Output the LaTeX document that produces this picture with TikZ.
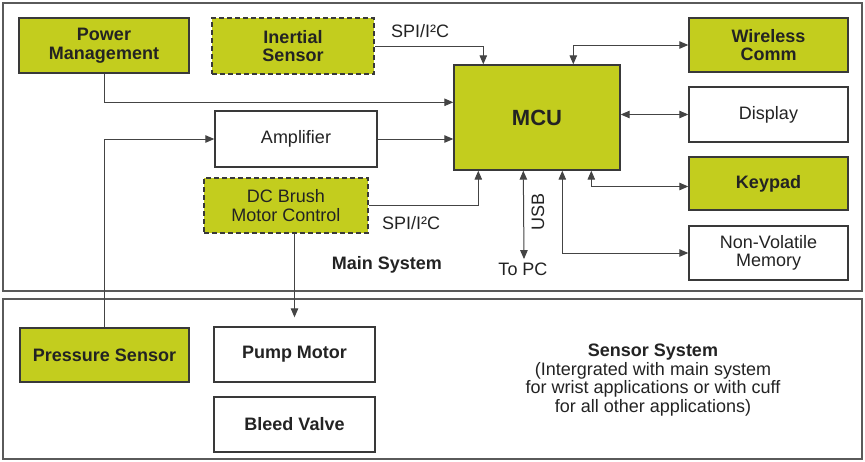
\documentclass[tikz,border=0pt]{standalone}
\usepackage{fontspec}
\setmainfont{Liberation Sans}
\usetikzlibrary{arrows.meta}
\definecolor{lime}{RGB}{195,205,30}
\definecolor{ink}{RGB}{35,35,35}
\begin{document}
\begin{tikzpicture}[x=1pt,y=-1pt,
  txt/.style={font=\fontsize{18}{18.5}\selectfont, text=ink, align=center},
  btxt/.style={font=\fontsize{18}{18.5}\selectfont\bfseries},
  box/.style={txt, draw=ink!90, line width=1.4pt, inner sep=0pt},
  gbox/.style={box, fill=lime, btxt},
  wbox/.style={box, fill=white},
  dashbox/.style={line width=1.8pt, dash pattern=on 5pt off 3pt},
  frame/.style={draw=ink!75, line width=1.4pt, inner sep=0pt},
  conn/.style={draw=ink!85, line width=1pt},
  arr/.style={conn, -{Triangle[length=9pt,width=7.5pt]}},
  darr/.style={conn, {Triangle[length=9pt,width=7.5pt]}-{Triangle[length=9pt,width=7.5pt]}}]
\useasboundingbox (0,0) rectangle (865,461);
\fill[white] (0,0) rectangle (865,461);
% frames
\node[frame, minimum width=859pt, minimum height=288pt] (mainframe) at (432.5,147) {};
\node[frame, minimum width=859pt, minimum height=160pt] (sensorframe) at (432.5,379) {};
% boxes
\node[gbox, minimum width=170pt, minimum height=55pt] (pm) at (104,45.5) {Power\\Management};
\node[gbox, dashbox, minimum width=162pt, minimum height=56pt] (inertial) at (293,46) {Inertial\\Sensor};
\node[wbox, minimum width=162pt, minimum height=56pt] (amp) at (296,139) {Amplifier};
\node[box, fill=lime, dashbox, minimum width=164pt, minimum height=55pt] (dc) at (286,205.5) {DC Brush\\Motor Control};
\node[gbox, minimum width=166pt, minimum height=105pt, font=\fontsize{22}{24}\selectfont\bfseries] (mcu) at (537,117.5) {MCU};
\node[gbox, minimum width=159pt, minimum height=54pt] (wireless) at (768.5,45) {Wireless\\Comm};
\node[wbox, minimum width=159pt, minimum height=55pt] (display) at (768.5,114.5) {Display};
\node[gbox, minimum width=159pt, minimum height=53pt] (keypad) at (768.5,183.5) {Keypad};
\node[wbox, minimum width=159pt, minimum height=54pt] (nvm) at (768.5,253) {Non-Volatile\\Memory};
\node[gbox, minimum width=169pt, minimum height=54pt] (pressure) at (104.5,355) {Pressure Sensor};
\node[wbox, btxt, minimum width=161pt, minimum height=55pt] (pump) at (294.5,354.5) {Pump Motor};
\node[wbox, btxt, minimum width=161pt, minimum height=55pt] (bleed) at (294.5,424.5) {Bleed Valve};
% labels
\node[txt] (spi1) at (420,31) {SPI/I²C};
\node[txt] (spi2) at (411,223) {SPI/I²C};
\node[txt, rotate=90] (usb) at (538,212) {USB};
\node[txt] (topc) at (523,269) {To PC};
\node[txt, btxt] (mainlbl) at (387,265) {Main System};
\node[txt] (sensorlbl) at (653,380) {\textbf{Sensor System}\\(Intergrated with main system\\for wrist applications or with cuff\\for all other applications)};
% connectors
\draw[arr] (inertial.east) -| ([xshift=30pt]mcu.north west);
\draw[arr] (pm.south) |- ([yshift=-38pt]mcu.north west);
\draw[arr] (amp.east) -- (amp.east -| mcu.west);
\draw[arr] (pressure.north) |- (amp.west);
\draw[arr] (dc.east) -| ([xshift=25pt]mcu.south west);
\draw[arr] (dc.south -| pump.north) -- ([yshift=9pt]pump.north);
\draw[darr] ([xshift=70pt]mcu.south west) -- (topc.north -| 524,0);
\draw[darr] ([xshift=109pt]mcu.south west) |- (nvm.west);
\draw[darr] ([xshift=138pt]mcu.south west) |- ([yshift=-3pt]keypad.west);
\draw[darr] (mcu.east |- display.west) -- (display.west);
\draw[darr] ([xshift=120pt]mcu.north west) |- (wireless.west);
\end{tikzpicture}
\end{document}
